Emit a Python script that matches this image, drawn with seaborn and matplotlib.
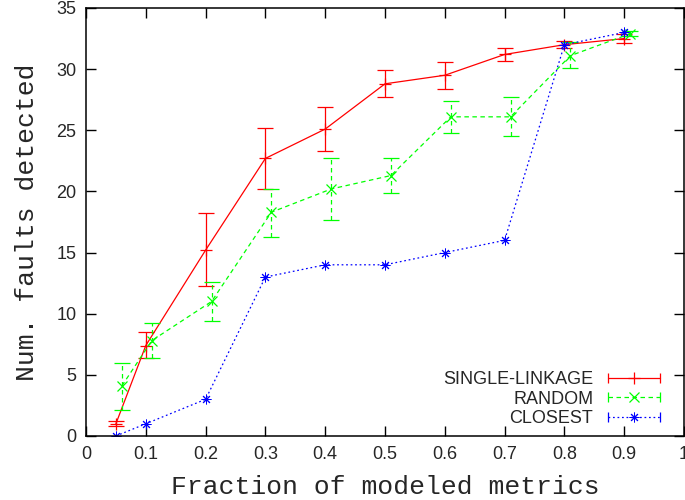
import numpy as np
import pandas as pd
import matplotlib
matplotlib.use("Agg")
import matplotlib.pyplot as plt
import seaborn as sns
from matplotlib.lines import Line2D
from matplotlib.legend_handler import HandlerLine2D, HandlerTuple

# data
x_single = [0.05, 0.1, 0.2, 0.3, 0.4, 0.5, 0.6, 0.7, 0.8, 0.9]
y_single = [1.0, 7.4, 15.2, 22.7, 25.1, 28.8, 29.5, 31.2, 32.0, 32.5]
lo_single = [0.8, 6.4, 12.3, 20.2, 23.3, 27.7, 28.4, 30.7, 31.7, 32.1]
hi_single = [1.2, 8.5, 18.2, 25.2, 26.9, 29.9, 30.6, 31.7, 32.3, 32.9]

x_random = [0.06, 0.11, 0.21, 0.31, 0.41, 0.51, 0.61, 0.71, 0.81, 0.91]
y_random = [4.1, 7.8, 11.0, 18.3, 20.2, 21.3, 26.1, 26.1, 31.1, 32.9]
lo_random = [2.1, 6.4, 9.4, 16.3, 17.7, 19.9, 24.8, 24.5, 30.1, 32.7]
hi_random = [6.0, 9.2, 12.6, 20.2, 22.7, 22.7, 27.4, 27.7, 32.2, 33.1]

x_closest = [0.05, 0.1, 0.2, 0.3, 0.4, 0.5, 0.6, 0.7, 0.8, 0.9]
y_closest = [0, 1, 3, 13, 14, 14, 15, 16, 32, 33]

sns.set_style("ticks")
plt.rcParams["font.family"] = ["Liberation Sans", "DejaVu Sans"]

fig = plt.figure(figsize=(6.85, 5), dpi=100)
ax = fig.add_axes([86 / 685, 64 / 500, 598 / 685, 428 / 500])

red, green, blue = "#ff0000", "#00ff00", "#0000ff"
asterisk = (8, 2, 0)
lw = 0.9

series = [
    ("SINGLE-LINKAGE", x_single, y_single, lo_single, hi_single, red, "-", "+", 8, lw),
    ("RANDOM", x_random, y_random, lo_random, hi_random, green, (0, (3.6, 2.8)), "x", 7, lw),
    ("CLOSEST", x_closest, y_closest, None, None, blue, (0, (1.4, 2.2)), asterisk, 7, 0.7),
]

handles, labels, hmap = [], [], {}
for name, xs, ys, lo, hi, col, ls, mk, ms, mew in series:
    df = pd.DataFrame({"x": xs, "y": ys})
    sns.lineplot(data=df, x="x", y="y", ax=ax, color=col, linestyle=ls,
                 linewidth=lw, marker=mk, markersize=ms, markeredgewidth=mew,
                 markeredgecolor=col, estimator=None, sort=False)
    if lo is not None:
        yerr = [np.array(ys) - np.array(lo), np.array(hi) - np.array(ys)]
        eb = ax.errorbar(xs, ys, yerr=yerr, fmt="none", ecolor=col,
                         elinewidth=lw, capsize=6, capthick=lw)
        for c in eb[2]:
            c.set_linestyle(ls)
    main = Line2D([], [], color=col, linestyle=ls, linewidth=lw, marker=mk,
                  markersize=ms, markeredgewidth=mew)
    caps = Line2D([], [], color=col, linestyle="none", marker="|",
                  markersize=7, markeredgewidth=lw)
    hmap[main] = HandlerLine2D(numpoints=1)
    hmap[caps] = HandlerLine2D(numpoints=2, marker_pad=0)
    tup = (main, caps)
    hmap[tup] = HandlerTuple(ndivide=1, pad=0)
    handles.append(tup)
    labels.append(name)

ax.set_xlim(0, 1)
ax.set_ylim(0, 35)
ax.set_xticks(np.arange(0, 1.01, 0.1))
ax.set_xticklabels(["0", "0.1", "0.2", "0.3", "0.4", "0.5", "0.6", "0.7",
                    "0.8", "0.9", "1"])
ax.set_yticks(range(0, 36, 5))
ax.tick_params(direction="in", length=7, width=1, top=True, right=True,
               labelsize=13, pad=7, color="black")
for s in ax.spines.values():
    s.set_linewidth(1.1)
    s.set_color("black")

mono = ["Liberation Mono", "DejaVu Sans Mono"]
ax.set_xlabel("Fraction of modeled metrics", fontsize=19, family=mono, labelpad=9)
ax.set_ylabel("Num. faults detected", fontsize=19, family=mono, labelpad=12)

ax.legend(handles, labels, handler_map=hmap, loc="lower right",
          bbox_to_anchor=(0.96, 0.02), frameon=False, markerfirst=False,
          fontsize=13, handlelength=2.9, handletextpad=0.8,
          labelspacing=0.15, borderpad=0, borderaxespad=0)

fig.savefig("out.png", dpi=100)
